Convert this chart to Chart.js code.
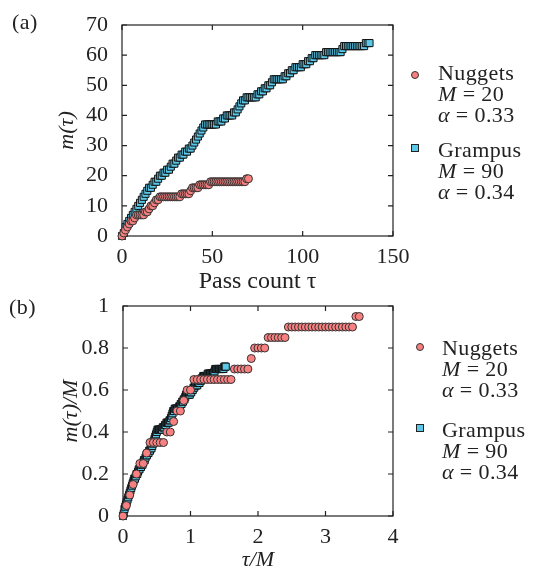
<!DOCTYPE html>
<html>
<head>
<meta charset="utf-8">
<script src="https://cdn.jsdelivr.net/npm/chart.js@4.4.1/dist/chart.umd.min.js"></script>
<style>
  body { margin: 0; background: #fff; }
  #wrap { position: relative; width: 535px; height: 573px; background: #fff; font-family: "Liberation Serif", serif; color: #222; }
  canvas { position: absolute; left: 0; }
  .txt { position: absolute; font-size: 22px; line-height: 21px; white-space: nowrap; letter-spacing: 0.4px; }
  .dot { position: absolute; width: 6px; height: 6px; border-radius: 50%; background: #f88080; border: 1px solid #333; }
  .sq { position: absolute; width: 6px; height: 6px; background: #5cc8e8; border: 1px solid #222; }
</style>
</head>
<body>
<div id="wrap">
  <canvas id="chartA" width="420" height="300" style="top:0"></canvas>
  <canvas id="chartB" width="420" height="283" style="top:290px"></canvas>

  <div class="txt" style="left:12px;top:11px">(a)</div>
  <div class="txt" style="left:9px;top:296px">(b)</div>

  <span class="dot" style="left:411px;top:71px"></span>
  <div class="txt" style="left:438px;top:62px">Nuggets<br><i>M</i> = 20<br><i>α</i> = 0.33</div>
  <span class="sq" style="left:411px;top:144px"></span>
  <div class="txt" style="left:438px;top:139px">Grampus<br><i>M</i> = 90<br><i>α</i> = 0.34</div>

  <span class="dot" style="left:416px;top:343px"></span>
  <div class="txt" style="left:442px;top:337px">Nuggets<br><i>M</i> = 20<br><i>α</i> = 0.33</div>
  <span class="sq" style="left:416px;top:424px"></span>
  <div class="txt" style="left:442px;top:419px">Grampus<br><i>M</i> = 90<br><i>α</i> = 0.34</div>
</div>

<script>
// number of nuggets found m(τ) after τ passes, index = pass count τ
const nuggetsM = [
  0, 1, 2, 3, 4, 5, 5, 6, 7, 7,
  7, 7, 7, 8, 8, 9, 10, 10, 11, 12,
  12, 13, 13, 13, 13, 13, 13, 13, 13, 13,
  13, 13, 13, 14, 14, 14, 14, 14, 15, 16,
  16, 16, 16, 17, 17, 17, 17, 17, 17, 18,
  18, 18, 18, 18, 18, 18, 18, 18, 18, 18,
  18, 18, 18, 18, 18, 18, 18, 18, 18, 19,
  19
];
const grampusM = [
  0, 1, 3, 4, 5, 6, 7, 8, 9, 10,
  11, 12, 13, 14, 15, 16, 16, 17, 18, 18,
  19, 20, 20, 21, 21, 22, 22, 23, 24, 24,
  25, 26, 26, 27, 27, 28, 28, 29, 29, 30,
  31, 32, 33, 34, 35, 36, 37, 37, 37, 37,
  37, 37, 37, 38, 38, 38, 39, 39, 40, 40,
  40, 40, 41, 41, 42, 43, 44, 45, 45, 46,
  46, 46, 46, 46, 46, 47, 47, 48, 48, 49,
  49, 50, 50, 51, 52, 52, 52, 52, 52, 52,
  53, 53, 54, 54, 55, 55, 56, 56, 56, 56,
  57, 57, 57, 58, 58, 59, 59, 60, 60, 60,
  60, 60, 60, 61, 61, 61, 61, 61, 61, 61,
  61, 61, 62, 63, 63, 63, 63, 63, 63, 63,
  63, 63, 63, 63, 63, 64, 64, 64
];
const nuggetsTotal = 20;
const grampusTotal = 90;

const xTicksA = [0, 50, 100, 150];
const yTicksA = [0, 10, 20, 30, 40, 50, 60, 70];
const xTicksB = [0, 1, 2, 3, 4];
const yTicksB = [0, 0.2, 0.4, 0.6, 0.8, 1];

const FONT = 'Liberation Serif';
const INK = '#222';
const RED = '#f88080';
const BLUE = '#5cc8e8';

// box around the plot with inward ticks on all four sides
const framePlugin = {
  id: 'frame',
  beforeDatasetsDraw(chart) {
    const { ctx, chartArea: a, scales } = chart;
    const len = 5;
    ctx.save();
    ctx.strokeStyle = INK;
    ctx.lineWidth = 1.2;
    ctx.strokeRect(a.left, a.top, a.right - a.left, a.bottom - a.top);
    ctx.beginPath();
    scales.x.ticks.forEach(t => {
      const px = scales.x.getPixelForValue(t.value);
      ctx.moveTo(px, a.bottom); ctx.lineTo(px, a.bottom - len);
      ctx.moveTo(px, a.top); ctx.lineTo(px, a.top + len);
    });
    scales.y.ticks.forEach(t => {
      const py = scales.y.getPixelForValue(t.value);
      ctx.moveTo(a.left, py); ctx.lineTo(a.left + len, py);
      ctx.moveTo(a.right, py); ctx.lineTo(a.right - len, py);
    });
    ctx.stroke();
    ctx.restore();
  }
};

function points(ms, scale) {
  return ms.map((m, tau) => ({ x: tau / scale, y: m / scale }));
}

function makeChart(id, opts) {
  const nuggets = {
    label: 'Nuggets',
    data: points(nuggetsM, opts.norm ? nuggetsTotal : 1),
    pointStyle: 'circle',
    pointRadius: 4,
    backgroundColor: RED,
    borderColor: '#333',
    borderWidth: 1,
    clip: false
  };
  const grampus = {
    label: 'Grampus',
    data: points(grampusM, opts.norm ? grampusTotal : 1),
    pointStyle: 'rect',
    pointRadius: 5,
    backgroundColor: BLUE,
    borderColor: '#111',
    borderWidth: 1,
    clip: false
  };
  return new Chart(document.getElementById(id), {
    type: 'scatter',
    // first dataset is drawn on top
    data: { datasets: [nuggets, grampus] },
    plugins: [framePlugin],
    options: {
      responsive: false,
      animation: false,
      devicePixelRatio: 1,
      layout: { padding: { top: opts.top, right: 27, left: 0, bottom: 0 } },
      plugins: { legend: { display: false }, tooltip: { enabled: false } },
      scales: {
        x: {
          type: 'linear',
          min: opts.xTicks[0],
          max: opts.xTicks[opts.xTicks.length - 1],
          afterBuildTicks: s => { s.ticks = opts.xTicks.map(v => ({ value: v })); },
          afterFit: s => { s.height = opts.xHeight; s.paddingLeft = 0; s.paddingRight = 0; },
          grid: { display: false, drawTicks: false },
          border: { display: false },
          ticks: { padding: 8, color: INK, font: { family: FONT, size: 22 }, maxRotation: 0, callback: v => String(v) },
          title: {
            display: true,
            text: opts.xTitle,
            color: INK,
            padding: { top: 0, bottom: opts.xTitlePad },
            font: { family: FONT, size: opts.xTitleSize, style: opts.xItalic ? 'italic' : 'normal' }
          }
        },
        y: {
          type: 'linear',
          min: opts.yTicks[0],
          max: opts.yTicks[opts.yTicks.length - 1],
          afterBuildTicks: s => { s.ticks = opts.yTicks.map(v => ({ value: v })); },
          afterFit: s => { s.width = opts.yWidth; s.paddingTop = 0; s.paddingBottom = 0; },
          grid: { display: false, drawTicks: false },
          border: { display: false },
          ticks: { padding: 14, color: INK, font: { family: FONT, size: 22 }, callback: v => String(v) },
          title: {
            display: true,
            text: opts.yTitle,
            color: INK,
            padding: { top: opts.yTitlePad, bottom: 0 },
            font: { family: FONT, size: 22, style: 'italic' }
          }
        }
      }
    }
  });
}

makeChart('chartA', {
  norm: false, top: 25, xHeight: 64, yWidth: 122,
  xTicks: xTicksA, yTicks: yTicksA,
  xTitle: 'Pass count τ', xItalic: false, xTitlePad: 4, xTitleSize: 24,
  yTitle: 'm(τ)', yTitlePad: 54
});

makeChart('chartB', {
  norm: true, top: 16, xHeight: 57, yWidth: 123,
  xTicks: xTicksB, yTicks: yTicksB,
  xTitle: 'τ/M', xItalic: true, xTitlePad: 0, xTitleSize: 22,
  yTitle: 'm(τ)/M', yTitlePad: 58
});
</script>
</body>
</html>
